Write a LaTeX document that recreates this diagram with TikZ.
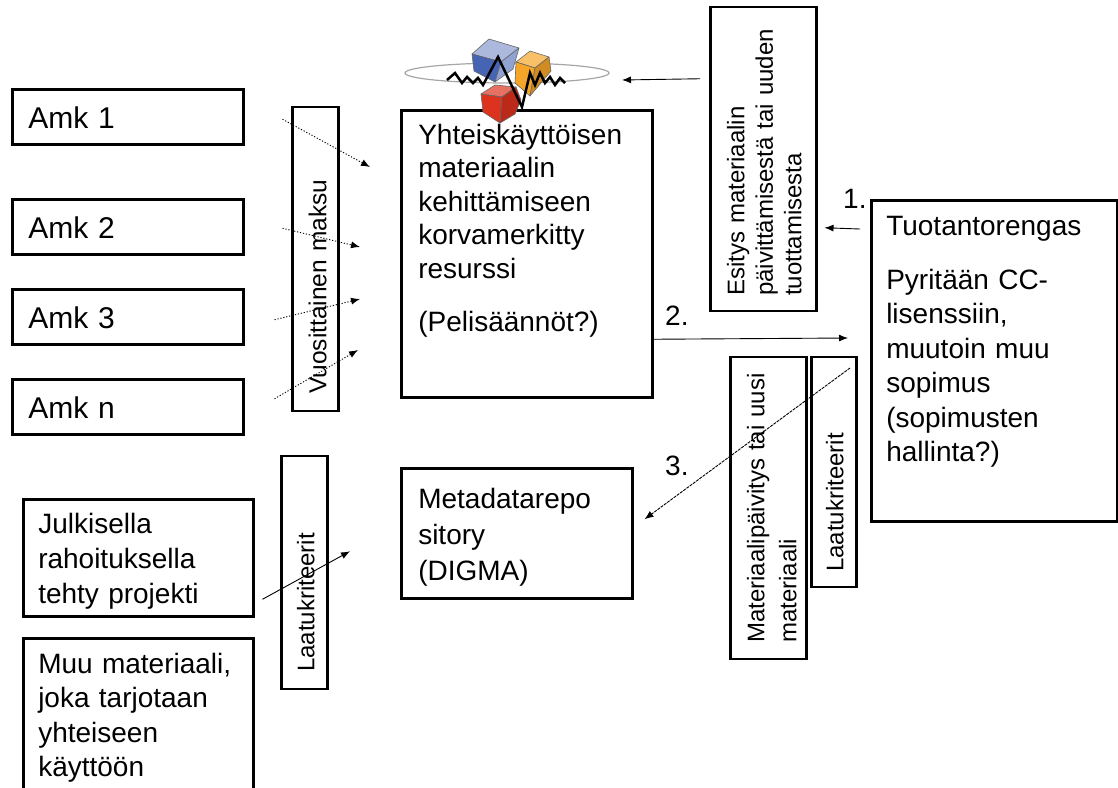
\documentclass[tikz,border=0pt]{standalone}
\usepackage{fontspec}
\setmainfont{Liberation Sans}
\usepackage{tikz}
\usetikzlibrary{shapes,arrows.meta}
\usetikzlibrary{calc}
\definecolor{cubeblue}{RGB}{70,100,180}
\definecolor{cubeorange}{RGB}{245,165,40}
\definecolor{cubered}{RGB}{220,50,30}
\newcommand\mybox[4][]{%
  \node[mybox,#1] (#2) at (#3) {#4};
}

\begin{document}
\begin{tikzpicture}[
x=1pt, y=-1pt,
mybox/.style={
  draw,
  line width=2.5pt,
  anchor=north west,
  inner ysep=0pt,
  align=left,
  font=\fontsize{28}{35}\selectfont},
amkbox/.style={
  text width=199pt,
  inner xsep=16pt,
  text height=39pt,
  text depth=16pt,
  font=\fontsize{30}{36}\selectfont},
myrot/.style={
  rotate=90,
  font=\fontsize{24}{28.5}\selectfont},
myarrow/.style={-{Latex[length=9pt,width=7pt]}, line width=0.9pt},
dotarrow/.style={myarrow, dash pattern=on 1.2pt off 1.8pt},
finearrow/.style={myarrow, dash pattern=on 3pt off 1pt},
mylabel/.style={anchor=base west, inner sep=0pt, font=\fontsize{28}{34}\selectfont},
cubeface/.style={draw=black!60, line width=0.6pt, line join=round}
]
\useasboundingbox (0,0) rectangle (1118,787);
% left column
\mybox[amkbox]{amk1}{11,88}{Amk 1}
\mybox[amkbox]{amk2}{11,198}{Amk 2}
\mybox[amkbox]{amk3}{11,288}{Amk 3}
\mybox[amkbox]{amkn}{11,378}{Amk n}
\mybox[text width=200pt,inner xsep=15pt,text height=34pt,text depth=83pt]{julk}{22,498}{Julkisella\\rahoituksella\\tehty projekti}
\mybox[text width=200pt,inner xsep=15pt,text height=35pt,text depth=130pt,font=\fontsize{28}{34.5}\selectfont]{muu}{22,637}{Muu materiaali,\\joka tarjotaan\\yhteiseen\\käyttöön}
% rotated boxes
\mybox[myrot,text width=270pt,inner xsep=17pt,text height=34pt,text depth=12pt,font=\fontsize{24.5}{30}\selectfont]{vuosi}{291,412}{Vuosittainen maksu}
\mybox[myrot,text width=199pt,inner xsep=17pt,text height=33pt,text depth=13pt]{laatvas}{280,690}{Laatukriteerit}
\mybox[myrot,text width=274pt,inner xsep=15pt,text height=34pt,text depth=72pt]{esitys}{709,312}{Esitys materiaalin\\päivittämisestä tai uuden\\tuottamisesta}
\mybox[myrot,text width=270pt,inner xsep=16pt,text height=34pt,text depth=42pt,font=\fontsize{24}{32}\selectfont]{mat}{729,660}{Materiaalipäivitys tai uusi\\materiaali}
\mybox[myrot,text width=200pt,inner xsep=15pt,text height=32pt,text depth=13pt]{laatoik}{810,588}{Laatukriteerit}
% middle and right
\mybox[text width=217pt,inner xsep=17pt,text height=34pt,text depth=253pt,font=\fontsize{28}{33.5}\selectfont]{yht}{400,109}{Yhteiskäyttöisen\\materiaalin\\kehittämiseen\\korvamerkitty\\resurssi\\[19.5pt](Pelisäännöt?)}
\mybox[text width=197pt,inner xsep=17pt,text height=40pt,text depth=90pt,font=\fontsize{28}{36}\selectfont]{meta}{400,467}{Metadatarepo\\sitory\\(DIGMA)}
\mybox[text width=216pt,inner xsep=15pt,text height=35pt,text depth=286pt,font=\fontsize{28}{34.5}\selectfont]{tuot}{870,199}{Tuotantorengas\\[19.5pt]Pyritään CC-\\lisenssiin,\\muutoin muu\\sopimus\\(sopimusten\\hallinta?)}
% logo
\coordinate (logo) at (507,73);
\draw[gray!70, line width=1.2pt] (logo) ellipse [x radius=102, y radius=10];
\filldraw[cubeface, fill=cubeblue!45!white] (472,54) -- (489,39) -- (519,48) -- (501,62) -- cycle;
\filldraw[cubeface, fill=cubeblue] (472,54) -- (501,62) -- (495,82) -- (474,71) -- cycle;
\filldraw[cubeface, fill=cubeblue!60!white] (501,62) -- (519,48) -- (513,69) -- (495,82) -- cycle;
\filldraw[cubeface, fill=cubeorange!70!white] (516,62) -- (530,51) -- (549,57) -- (535,68) -- cycle;
\filldraw[cubeface, fill=cubeorange] (516,62) -- (535,68) -- (530,96) -- (515,83) -- cycle;
\filldraw[cubeface, fill=cubeorange!85!black] (535,68) -- (549,57) -- (551,71) -- (530,96) -- cycle;
\filldraw[cubeface, fill=cubered!70!white] (481,94) -- (495,85) -- (516,87) -- (502,97) -- cycle;
\filldraw[cubeface, fill=cubered] (481,94) -- (502,97) -- (500,123) -- (483,112) -- cycle;
\filldraw[cubeface, fill=cubered!85!black] (502,97) -- (516,87) -- (521,100) -- (515,114) -- (500,123) -- cycle;
\draw[line width=2.5pt] (447,80) -- (455,73) -- (462,83) -- (467,77) -- (473,83) -- (478,78) -- (483,85) -- (498,57) -- (522,107) -- (530,73) -- (535,85) -- (540,73) -- (545,83) -- (550,77) -- (555,85) -- (560,78) -- (565,83);
% arrows
\draw[dotarrow] ($(amk1.east)+(38,2.5)$) -- ($(yht.north west)+(-30,58)$);
\draw[dotarrow] ($(amk2.east)+(38,1.5)$) -- ($(yht.north west)+(-40,138)$);
\draw[dotarrow] ($(amk3.east)+(30,3)$) -- ($(yht.north west)+(-40,190)$);
\draw[dotarrow] ($(amkn.east)+(30,-8)$) -- ($(yht.north west)+(-42,241)$);
\draw[myarrow] ($(esitys.north)+(-9,-80)$) -- ($(logo)+(115,7)$);
\draw[myarrow] ($(tuot.north west)+(-10,30)$) -- ($(esitys.south)+(7,69)$);
\draw[myarrow] ($(yht.east)+(0,85.5)$) -- ($(tuot.north west)+(-22,139)$);
\draw[finearrow] ($(tuot.north west)+(-20,169)$) -- ($(meta.east)+(11,-14)$);
\draw[myarrow] ($(julk.east)+(8,41.5)$) -- ($(meta.west)+(-50,18)$);
\node[mylabel] (lbl1) at (843,208) {1.};
\node[mylabel] (lbl2) at (665,325) {2.};
\node[mylabel] (lbl3) at (665,475) {3.};
\end{tikzpicture}
\end{document}
